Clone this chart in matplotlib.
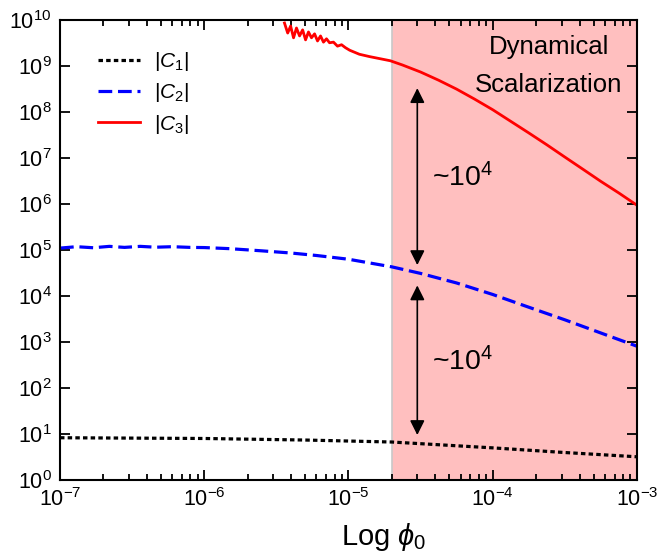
import matplotlib
matplotlib.use("Agg")
import matplotlib.pyplot as plt

plt.rcParams['font.family'] = ['Liberation Sans', 'DejaVu Sans']
plt.rcParams['mathtext.fontset'] = 'custom'
plt.rcParams['mathtext.rm'] = 'Liberation Sans'
plt.rcParams['mathtext.it'] = 'Liberation Sans:italic'
plt.rcParams['mathtext.default'] = 'regular'

# |C1| (black dotted)
phi_c1 = [1e-7, 1e-6, 5e-6, 2e-5, 1e-4, 3e-4, 1e-3]
c1 = [8.3, 8.0, 7.4, 6.7, 5.0, 4.0, 3.2]

# |C2| (blue dashed), slightly noisy at small phi
phi_c2 = [1e-7, 1.3e-7, 1.7e-7, 2.2e-7, 2.8e-7, 3.6e-7, 4.6e-7, 6e-7, 8e-7,
          1e-6, 1.5e-6, 2.5e-6, 4e-6, 6e-6, 1e-5, 2e-5, 3.16e-5, 5.62e-5,
          1e-4, 1.78e-4, 3.16e-4, 5.62e-4, 1e-3]
c2 = [1.10e5, 1.18e5, 1.12e5, 1.20e5, 1.14e5, 1.20e5, 1.15e5, 1.18e5, 1.14e5,
      1.13e5, 1.07e5, 9.6e4, 8.6e4, 7.6e4, 6.3e4, 4.3e4, 3.1e4, 1.92e4,
      1.08e4, 5.7e3, 3.04e3, 1.57e3, 8.1e2]

# |C3| (red solid), numerically noisy where it enters the plot
phi_c3 = [3.60e-6, 3.79e-6, 3.97e-6, 4.16e-6, 4.36e-6, 4.58e-6, 4.81e-6, 5.04e-6,
          5.28e-6, 5.54e-6, 5.82e-6, 6.10e-6, 6.40e-6, 6.71e-6, 7.04e-6, 7.39e-6,
          7.87e-6, 8.39e-6, 8.95e-6, 9.53e-6, 1.02e-5, 1.19e-5, 1.40e-5, 1.95e-5,
          2.37e-5, 3.16e-5, 4.22e-5, 5.62e-5, 7.5e-5, 1.0e-4, 1.33e-4, 1.78e-4,
          2.37e-4, 3.16e-4, 4.22e-4, 5.62e-4, 7.5e-4, 1e-3]
c3 = [8.6e9, 5.2e9, 7.4e9, 4.1e9, 6.7e9, 4.5e9, 6.1e9, 3.7e9,
      5.5e9, 4.1e9, 5.0e9, 3.5e9, 4.5e9, 3.3e9, 3.9e9, 3.2e9,
      3.3e9, 2.7e9, 2.9e9, 2.5e9, 2.2e9, 1.8e9, 1.6e9, 1.3e9,
      1.05e9, 7.4e8, 4.9e8, 3.14e8, 1.9e8, 1.12e8, 6.3e7, 3.5e7,
      1.94e7, 1.05e7, 5.7e6, 3.1e6, 1.73e6, 9.4e5]

shade_start = 2e-5
arrow_x = 3.0e-5
arrow_up = (3.3e8, 4.7e4)
arrow_low = (1.7e4, 9.5)

fig = plt.figure(figsize=(6.6, 5.57), dpi=100)
ax = fig.add_axes([0.0909, 0.1382, 0.8742, 0.8259])

ax.axvspan(shade_start, 1e-3, facecolor='#ffbfbf', edgecolor='none', zorder=0)
ax.axvline(shade_start, color='#c8c8c8', lw=1.2, zorder=0.5)

ax.plot(phi_c1, c1, color='black', lw=2.3, linestyle=(0, (1.4, 1.0)), label=r'$|\mathit{C}_1|$')
ax.plot(phi_c2, c2, color='#0000ff', lw=2.3, linestyle=(0, (4.3, 1.8)), label=r'$|\mathit{C}_2|$')
ax.plot(phi_c3, c3, color='#ff0000', lw=2.0, label=r'$|\mathit{C}_3|$')

# arrows showing the gap between coefficients
for top, bot in [arrow_up, arrow_low]:
    ax.annotate('', xy=(arrow_x, top), xytext=(arrow_x, bot),
                arrowprops=dict(arrowstyle='<|-|>', color='black', lw=1.2,
                                mutation_scale=22, shrinkA=0, shrinkB=0))
ax.text(3.8e-5, 3.7e6, r'~$10^4$', fontsize=20.5, va='center', ha='left')
ax.text(3.8e-5, 3.7e2, r'~$10^4$', fontsize=20.5, va='center', ha='left')

ax.text(0.847, 0.941, 'Dynamical', transform=ax.transAxes, fontsize=18.5,
        ha='center', va='center')
ax.text(0.847, 0.859, 'Scalarization', transform=ax.transAxes, fontsize=18.5,
        ha='center', va='center')

ax.set_xscale('log')
ax.set_yscale('log')
ax.set_xlim(1e-7, 1e-3)
ax.set_ylim(1e0, 1e10)
ax.set_yticks([10.0**k for k in range(11)])
ax.yaxis.set_minor_locator(matplotlib.ticker.NullLocator())

ax.tick_params(which='both', direction='in', top=True, right=True, labelsize=15.5, width=1.3)
ax.tick_params(which='major', length=7, pad=6)
ax.tick_params(which='minor', length=4)
for s in ax.spines.values():
    s.set_linewidth(1.5)

ax.set_xlabel(r'Log $\mathit{\phi}_0$', fontsize=21)
ax.xaxis.set_label_coords(0.5615, -0.088)

ax.legend(loc='upper left', bbox_to_anchor=(0.066, 0.935), borderaxespad=0, borderpad=0,
          frameon=False, fontsize=15, handlelength=2.0, handletextpad=0.7, labelspacing=0.4)

fig.savefig('out.png', dpi=100)
